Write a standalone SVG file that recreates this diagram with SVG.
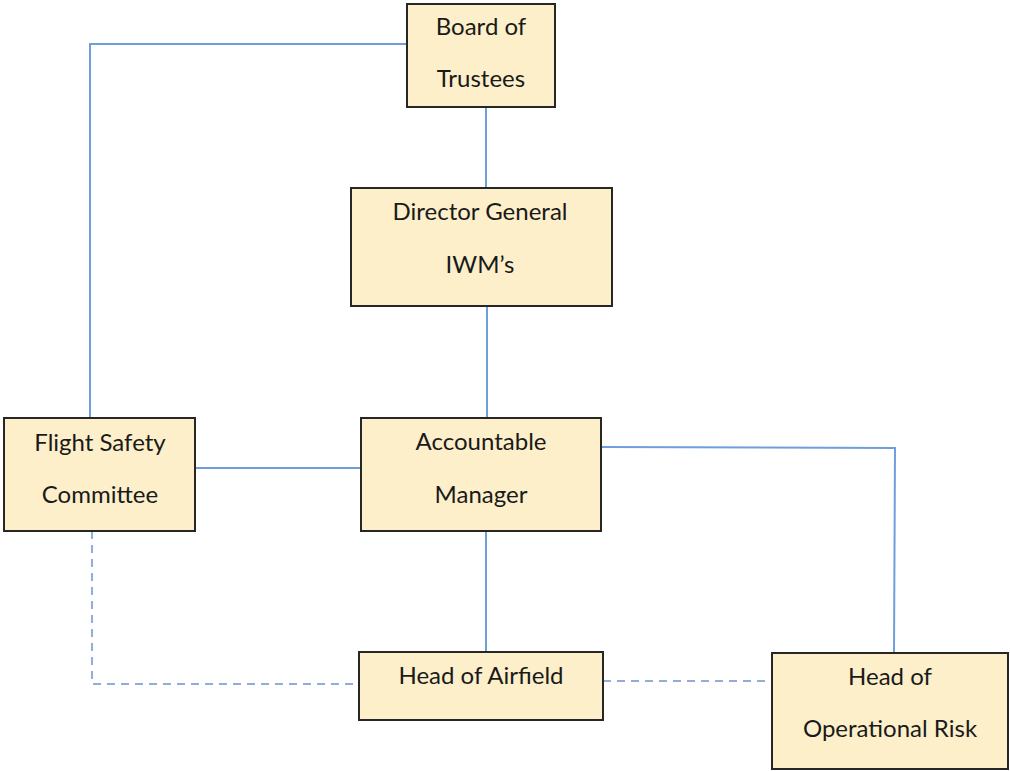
<svg xmlns="http://www.w3.org/2000/svg" width="1010" height="771" viewBox="0 0 1010 771">
<style>
.box{fill:#FDEFC9;stroke:#262626;stroke-width:2}
.t{font-family:Lato,"Liberation Sans",sans-serif;font-size:24px;fill:#1a1a1a;text-anchor:middle}
.c{fill:none;stroke:#6F9FDB;stroke-width:2}
.d{fill:none;stroke:#8FAFD8;stroke-width:2;stroke-dasharray:8 6}
</style>
<rect width="1010" height="771" fill="#fff"/>
<g id="connectors">
<polyline class="c" points="407,44 90,44 90,418"/>
<line class="c" x1="486" y1="107" x2="486" y2="188"/>
<line class="c" x1="487" y1="307" x2="487" y2="418"/>
<line class="c" x1="195" y1="468" x2="361" y2="468"/>
<polyline class="c" points="601,447 895,448 894,652"/>
<line class="c" x1="486" y1="531" x2="486" y2="652"/>
<polyline class="d" points="92,531 92,684 359,684"/>
<line class="d" x1="603" y1="681" x2="772" y2="681"/>
</g>
<g id="board">
<rect class="box" x="407" y="4" width="148" height="103"/>
<text class="t" x="481" y="35">Board of</text>
<text class="t" x="481" y="87">Trustees</text>
</g>
<g id="director">
<rect class="box" x="351" y="188" width="261" height="118"/>
<text class="t" x="480" y="220">Director General</text>
<text class="t" x="480" y="273">IWM’s</text>
</g>
<g id="flight">
<rect class="box" x="4" y="418" width="191" height="113"/>
<text class="t" x="100" y="451">Flight Safety</text>
<text class="t" x="100" y="503">Committee</text>
</g>
<g id="accountable">
<rect class="box" x="361" y="418" width="240" height="113"/>
<text class="t" x="481" y="450">Accountable</text>
<text class="t" x="481" y="503">Manager</text>
</g>
<g id="airfield">
<rect class="box" x="359" y="652" width="244" height="68"/>
<text class="t" x="481" y="684">Head of Airfield</text>
</g>
<g id="oprisk">
<rect class="box" x="772" y="653" width="236" height="116"/>
<text class="t" x="890" y="685">Head of</text>
<text class="t" x="890" y="737">Operational Risk</text>
</g>
</svg>
